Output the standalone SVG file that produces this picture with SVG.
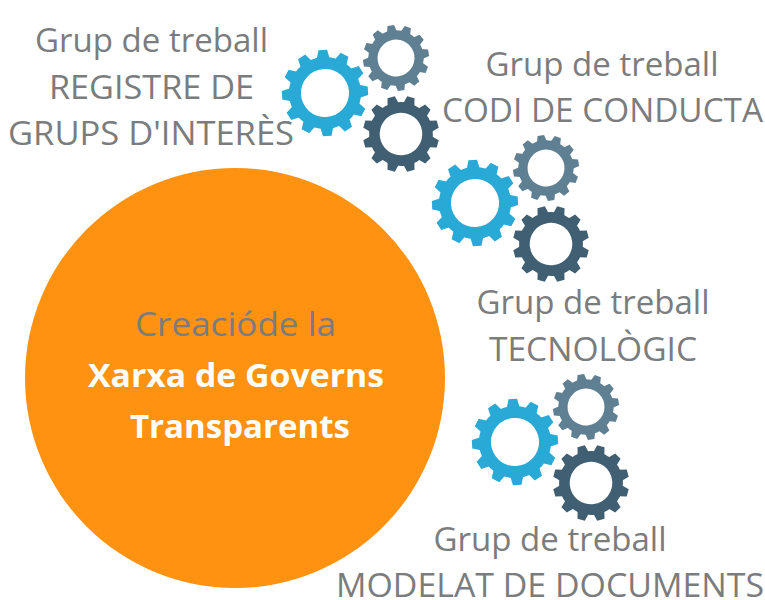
<svg xmlns="http://www.w3.org/2000/svg" width="765" height="600" viewBox="0 0 765 600">
<style>
text{font-family:"Open Sans","Noto Sans","Liberation Sans",sans-serif;font-size:33px;fill:#7a7c7e;text-anchor:middle}
.w{fill:#fff;font-weight:700}
</style>
<defs>
<polygon id="t" points="-15,-80 -10,-100 10,-100 15,-80"/>
<g id="gear">
<path fill-rule="evenodd" d="M-84,0A84,84 0 1 1 84,0A84,84 0 1 1 -84,0ZM-56,0A56,56 0 1 0 56,0A56,56 0 1 0 -56,0Z"/>
<use href="#t"/><use href="#t" transform="rotate(30)"/><use href="#t" transform="rotate(60)"/><use href="#t" transform="rotate(90)"/><use href="#t" transform="rotate(120)"/><use href="#t" transform="rotate(150)"/><use href="#t" transform="rotate(180)"/><use href="#t" transform="rotate(210)"/><use href="#t" transform="rotate(240)"/><use href="#t" transform="rotate(270)"/><use href="#t" transform="rotate(300)"/><use href="#t" transform="rotate(330)"/>
</g>
<g id="cluster">
<use href="#gear" fill="#29a9d6" transform="translate(325,93) rotate(-3) scale(.43)"/>
<use href="#gear" fill="#5f7f93" transform="translate(396,58) rotate(-9) scale(.33)"/>
<use href="#gear" fill="#415f72" transform="translate(401,134) rotate(15) scale(.38)"/>
</g>
</defs>
<g id="circle">
<circle cx="235" cy="378" r="210" fill="#ff9210"/>
<text x="235.500" y="336" textLength="201" lengthAdjust="spacingAndGlyphs">Creacióde la</text>
<text x="236" y="387" class="w" textLength="296" lengthAdjust="spacingAndGlyphs">Xarxa de Governs</text>
<text x="240" y="438" class="w" textLength="220" lengthAdjust="spacingAndGlyphs">Transparents</text>
</g>
<g id="gears1"><use href="#cluster"/></g>
<g id="gears2"><use href="#cluster" transform="translate(150,110)"/></g>
<g id="gears3"><use href="#cluster" transform="translate(190,349)"/></g>
<g id="label1">
<text x="151.500" y="52" textLength="233" lengthAdjust="spacingAndGlyphs">Grup de treball</text>
<text x="151.500" y="99" textLength="205" lengthAdjust="spacingAndGlyphs">REGISTRE DE</text>
<text x="151" y="145" textLength="286" lengthAdjust="spacingAndGlyphs">GRUPS D'INTERÈS</text>
</g>
<g id="label2">
<text x="602" y="76" textLength="233" lengthAdjust="spacingAndGlyphs">Grup de treball</text>
<text x="602.500" y="122" textLength="321" lengthAdjust="spacingAndGlyphs">CODI DE CONDUCTA</text>
</g>
<g id="label3">
<text x="593" y="314" textLength="233" lengthAdjust="spacingAndGlyphs">Grup de treball</text>
<text x="593" y="361" textLength="208" lengthAdjust="spacingAndGlyphs">TECNOLÒGIC</text>
</g>
<g id="label4">
<text x="550" y="551" textLength="233" lengthAdjust="spacingAndGlyphs">Grup de treball</text>
<text x="550" y="597" textLength="428" lengthAdjust="spacingAndGlyphs">MODELAT DE DOCUMENTS</text>
</g>
</svg>
